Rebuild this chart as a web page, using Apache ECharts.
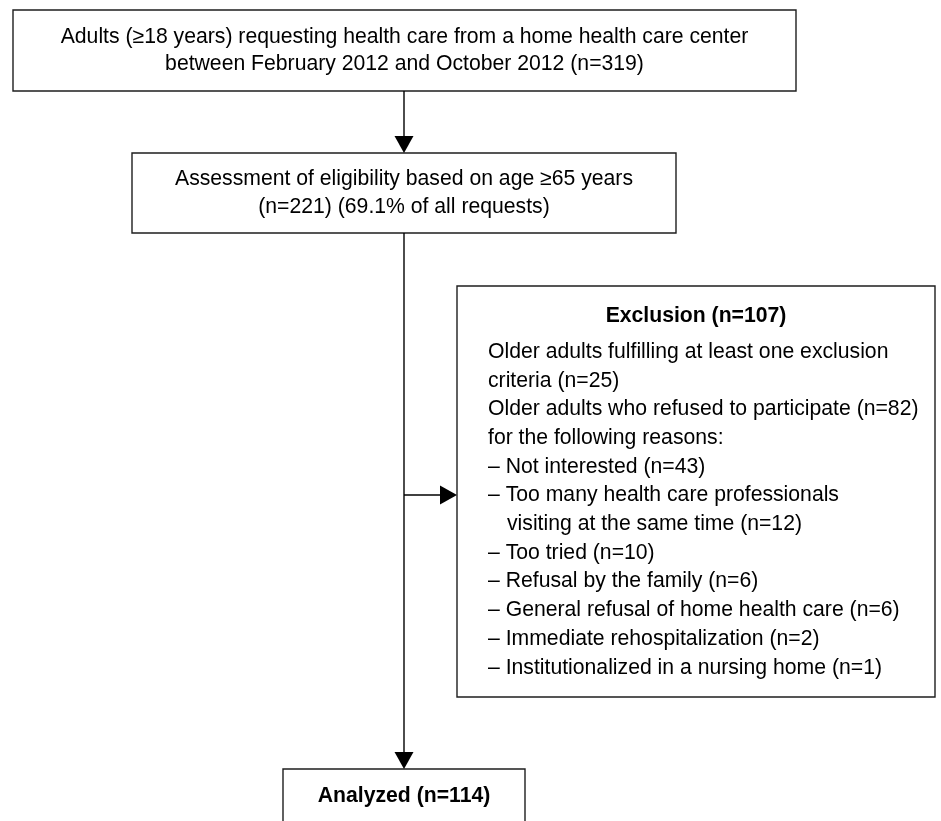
<!DOCTYPE html>
<html><head><meta charset="utf-8">
<script src="https://cdn.jsdelivr.net/npm/echarts@6/dist/echarts.min.js"></script>
<style>html,body{margin:0;padding:0;background:#fff}#c{width:941px;height:821px}</style>
</head><body><div id="c"></div>
<script>
// ---- data ----
const totalRequests = 319;
const eligibleCount = 221;
const eligiblePct = 69.1;
const excludedTotal = 107;
const exclusionCriteriaCount = 25;
const refusedCount = 82;
const refusalReasons = [
  ['Not interested'],
  ['Too many health care professionals', 'visiting at the same time'],
  ['Too tried'],
  ['Refusal by the family'],
  ['General refusal of home health care'],
  ['Immediate rehospitalization'],
  ['Institutionalized in a nursing home']
];
const refusalCounts = [43, 12, 10, 6, 6, 2, 1];
const analyzedCount = 114;

const box1Lines = [
  'Adults (\u226518 years) requesting health care from a home health care center',
  'between February 2012 and October 2012 (n=' + totalRequests + ')'
];
const box2Lines = [
  'Assessment of eligibility based on age \u226565 years',
  '(n=' + eligibleCount + ') (' + eligiblePct + '% of all requests)'
];
const exclusionTitle = 'Exclusion (n=' + excludedTotal + ')';
const exclusionIntro = [
  'Older adults fulfilling at least one exclusion',
  'criteria (n=' + exclusionCriteriaCount + ')',
  'Older adults who refused to participate (n=' + refusedCount + ')',
  'for the following reasons:'
];
const analyzedTitle = 'Analyzed (n=' + analyzedCount + ')';

// ---- layout ----
const FONT = '21.2px "Liberation Sans", Arial, sans-serif';
const BOLD = 'bold 21.2px "Liberation Sans", Arial, sans-serif';
const INK = '#000';
const BORDER = '#1e1e1e';
const LW = 1.4;
const cx = 404;
const B1 = {x: 13, y: 10, w: 783, h: 81};
const B2 = {x: 132, y: 153, w: 544, h: 80};
const B3 = {x: 457, y: 286, w: 478, h: 411};
const B4 = {x: 283, y: 769, w: 242, h: 56};
const LINE_H = 28;
const HEAD_L = 17, HEAD_W = 19;

const els = [];
function box(b) {
  els.push({type: 'rect', shape: {x: b.x, y: b.y, width: b.w, height: b.h},
    style: {fill: '#fff', stroke: BORDER, lineWidth: LW}, z: 1});
}
function txt(s, x, y, font, align) {
  els.push({type: 'text', z: 3, style: {text: s, x: x, y: y, font: font, fill: INK,
    align: align, textAlign: align, verticalAlign: 'middle', textVerticalAlign: 'middle'}});
}
function arrow(x1, y1, x2, y2) {
  const dx = x2 - x1, dy = y2 - y1, len = Math.hypot(dx, dy);
  const ux = dx / len, uy = dy / len;
  const bx = x2 - ux * HEAD_L, by = y2 - uy * HEAD_L;
  els.push({type: 'line', z: 2, shape: {x1: x1, y1: y1, x2: bx, y2: by},
    style: {stroke: INK, lineWidth: LW}});
  els.push({type: 'polygon', z: 2, shape: {points: [
    [x2, y2], [bx - uy * HEAD_W / 2, by + ux * HEAD_W / 2], [bx + uy * HEAD_W / 2, by - ux * HEAD_W / 2]]},
    style: {fill: INK}});
}

box(B1); box(B2); box(B3); box(B4);
box1Lines.forEach((s, i) => txt(s, B1.x + B1.w / 2, B1.y + B1.h / 2 + (i - 0.5) * 27, FONT, 'center'));
box2Lines.forEach((s, i) => txt(s, B2.x + B2.w / 2, B2.y + B2.h / 2 + (i - 0.5) * LINE_H, FONT, 'center'));

txt(exclusionTitle, B3.x + B3.w / 2, 316, BOLD, 'center');
const tx = B3.x + 31;
const yStart = 352, step = 28.7;
let k = 0;
exclusionIntro.forEach(s => { txt(s, tx, yStart + step * k, FONT, 'left'); k++; });
let arrowY = 0;
refusalReasons.forEach((lines, i) => {
  lines.forEach((s, j) => {
    const last = j === lines.length - 1;
    const label = (j === 0 ? '\u2013 ' : '') + s + (last ? ' (n=' + refusalCounts[i] + ')' : '');
    txt(label, j === 0 ? tx : tx + 19, yStart + step * k, FONT, 'left');
    if (i === 1 && j === 0) arrowY = Math.round(yStart + step * k) - 1;
    k++;
  });
});
txt(analyzedTitle, B4.x + B4.w / 2, 796, BOLD, 'center');

arrow(cx, B1.y + B1.h, cx, B2.y);
arrow(cx, B2.y + B2.h, cx, B4.y);
arrow(cx, arrowY, B3.x, arrowY);

const chart = echarts.init(document.getElementById('c'), null, {renderer: 'canvas'});
chart.setOption({backgroundColor: '#fff', animation: false, graphic: {elements: els}});
</script>
</body></html>
